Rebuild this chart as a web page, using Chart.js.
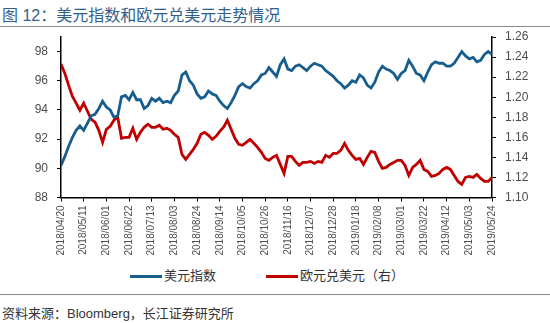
<!DOCTYPE html>
<html lang="zh">
<head>
<meta charset="UTF-8">
<title>美元指数和欧元兑美元走势情况</title>
<script src="https://cdn.jsdelivr.net/npm/chart.js"></script>
<style>
    body { margin: 0; background: #fff; font-family: "Liberation Sans", Arial, "Noto Sans CJK SC", sans-serif; }
    .wrap { position: relative; width: 550px; height: 323px; overflow: hidden; }
    .title { position: absolute; left: 2px; top: 2px; font-size: 16px; color: #31608e; white-space: nowrap; }
    .rule { position: absolute; left: 0; width: 550px; height: 0; border-top: 1.5px solid #8a8a8a; }
    .legend { position: absolute; top: 265px; font-size: 13px; color: #333; white-space: nowrap; }
    .legend span.sw { display: inline-block; width: 32px; height: 3px; vertical-align: middle; margin-right: 2px; }
    .source { position: absolute; left: 2px; top: 303px; font-size: 13px; color: #333; white-space: nowrap; }
    canvas { position: absolute; left: 0; top: 0; }
</style>
</head>
<body>
<div class="wrap">
    <div class="title">图 12：美元指数和欧元兑美元走势情况</div>
    <div class="rule" style="top:26px"></div>
    <canvas id="fxChart" width="550" height="265"></canvas>
    <div class="legend" style="left:130px"><span class="sw" style="background:#175d8d"></span>美元指数</div>
    <div class="legend" style="left:266px"><span class="sw" style="background:#c00000"></span>欧元兑美元（右）</div>
    <div class="rule" style="top:294px"></div>
    <div class="source">资料来源：Bloomberg，长江证券研究所</div>
</div>
<script>
// tick labels, one every 6 half-week points
const tickLabels = ['2018/04/20','2018/05/11','2018/06/01','2018/06/22','2018/07/13','2018/08/03','2018/08/24',
    '2018/09/14','2018/10/05','2018/10/26','2018/11/16','2018/12/07','2018/12/28','2019/01/18','2019/02/08',
    '2019/03/01','2019/03/22','2019/04/12','2019/05/03','2019/05/24'];

// 美元指数 (left axis), read twice a week off the picture
const usdIndex = [
    90.2, 90.8, 91.5, 92.1, 92.6, 92.9, 92.6, 93.1, 93.6, 93.7,
    94.1, 94.6, 94.2, 94.0, 93.5, 93.6, 94.9, 95.0, 94.7, 95.2,
    94.7, 94.7, 94.1, 94.3, 94.8, 94.6, 94.8, 94.5, 94.6, 94.5,
    95.0, 95.3, 96.4, 96.6, 96.0, 95.7, 95.1, 94.8, 94.9, 95.3,
    95.1, 95.0, 94.6, 94.3, 94.1, 94.5, 95.0, 95.6, 95.8, 95.6,
    95.5, 95.8, 96.0, 96.4, 96.5, 96.9, 96.6, 96.3, 97.1, 97.5,
    96.8, 96.7, 97.0, 97.1, 96.9, 96.7, 97.0, 97.2, 97.1, 97.0,
    96.7, 96.5, 96.3, 96.0, 95.8, 95.5, 95.7, 96.0, 95.9, 96.4,
    96.2, 95.7, 95.5, 95.9, 96.6, 97.0, 96.8, 96.7, 96.5, 96.1,
    96.5, 96.7, 97.4, 97.0, 96.5, 96.4, 96.0, 96.6, 97.1, 97.3,
    97.2, 97.2, 97.0, 97.0, 97.2, 97.6, 98.0, 97.7, 97.5, 97.6,
    97.3, 97.4, 97.8, 98.0, 97.8
];

// 欧元兑美元 (right axis)
const eurUsd = [
    1.233, 1.224, 1.212, 1.201, 1.194, 1.187, 1.194, 1.186, 1.178, 1.175,
    1.167, 1.155, 1.168, 1.171, 1.177, 1.180, 1.159, 1.160, 1.160, 1.169,
    1.158, 1.165, 1.170, 1.173, 1.170, 1.170, 1.172, 1.168, 1.169, 1.167,
    1.163, 1.160, 1.143, 1.138, 1.143, 1.148, 1.154, 1.163, 1.165, 1.162,
    1.158, 1.161, 1.166, 1.170, 1.177, 1.168, 1.159, 1.153, 1.152, 1.155,
    1.158, 1.154, 1.150, 1.145, 1.139, 1.137, 1.140, 1.142, 1.133, 1.124,
    1.141, 1.141, 1.136, 1.132, 1.135, 1.135, 1.136, 1.134, 1.136, 1.135,
    1.142, 1.140, 1.144, 1.144, 1.147, 1.154, 1.147, 1.142, 1.138, 1.139,
    1.133, 1.140, 1.146, 1.145, 1.136, 1.129, 1.130, 1.133, 1.135, 1.137,
    1.137, 1.132, 1.122, 1.130, 1.133, 1.137, 1.128, 1.126, 1.121, 1.122,
    1.124, 1.128, 1.130, 1.128, 1.122, 1.116, 1.113, 1.120, 1.121, 1.120,
    1.123, 1.119, 1.116, 1.116, 1.120
];

const perLabel = 6;
const gray = '#4d4d4d';
const axisGrid = { drawOnChartArea: false, drawTicks: true, tickLength: 4, color: '#000', lineWidth: 1 };
const axisBorder = { display: true, color: '#000', width: 1.5 };
const tickFont = { family: '"Liberation Sans", Arial, sans-serif', size: 12 };

const ctx = document.getElementById('fxChart').getContext('2d');
const fxChart = new Chart(ctx, {
    type: 'line',
    data: {
        datasets: [
            {
                label: '美元指数',
                data: usdIndex.map((v, i) => ({ x: i, y: v })),
                borderColor: '#175d8d',
                borderWidth: 2.8,
                pointRadius: 0,
                yAxisID: 'yL'
            },
            {
                label: '欧元兑美元（右）',
                data: eurUsd.map((v, i) => ({ x: i, y: v })),
                borderColor: '#c00000',
                borderWidth: 2.8,
                pointRadius: 0,
                yAxisID: 'yR'
            }
        ]
    },
    options: {
        responsive: false,
        animation: false,
        devicePixelRatio: 1,
        layout: { padding: { top: 37, left: 0, right: 0, bottom: 0 } },
        plugins: { legend: { display: false }, tooltip: { enabled: false } },
        scales: {
            x: {
                type: 'linear',
                min: 0,
                max: usdIndex.length - 1,
                grid: axisGrid,
                border: axisBorder,
                afterFit: s => { s.height = 265 - 197.5; },
                ticks: {
                    stepSize: perLabel,
                    autoSkip: false,
                    maxRotation: 90,
                    minRotation: 90,
                    padding: 4,
                    color: gray,
                    font: { family: tickFont.family, size: 10 },
                    callback: v => tickLabels[Math.round(v / perLabel)] || ''
                }
            },
            yL: {
                position: 'left',
                min: 88,
                max: 99,
                grid: axisGrid,
                border: axisBorder,
                afterFit: s => { s.width = 61; },
                afterBuildTicks: s => { s.ticks = s.ticks.filter(t => t.value % 2 === 0); },
                ticks: { stepSize: 2, padding: 9, color: gray, font: tickFont }
            },
            yR: {
                position: 'right',
                min: 1.10,
                max: 1.26,
                grid: axisGrid,
                border: axisBorder,
                afterFit: s => { s.width = 58; },
                ticks: { stepSize: 0.02, padding: 9, color: gray, font: tickFont, callback: v => v.toFixed(2) }
            }
        }
    }
});
</script>
</body>
</html>
